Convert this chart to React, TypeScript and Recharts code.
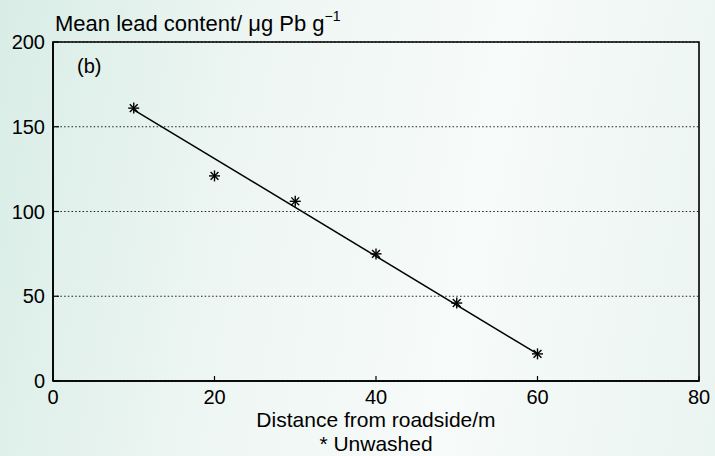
import React from 'react';
import { ComposedChart, Scatter, XAxis, YAxis, CartesianGrid, ReferenceArea } from 'recharts';

const distance = [10, 20, 30, 40, 50, 60];
const leadUnwashed = [161, 121, 106, 75, 46, 16];
const fitDistance = [10, 60];
const fitLead = [160, 16];
const xTicks = [0, 20, 40, 60, 80];
const yTicks = [0, 50, 100, 150, 200];

const points = distance.map((d, i) => ({ x: d, y: leadUnwashed[i] }));
const fitLine = fitDistance.map((d, i) => ({ x: d, y: fitLead[i] }));

const FONT = '"Liberation Sans", Arial, Helvetica, sans-serif';

// MATLAB style '*' marker
const Asterisk = (props: any) => {
  const { cx, cy } = props;
  if (cx == null || cy == null) return null;
  const r = 5.5;
  const d = r * 0.72;
  return (
    <g stroke="#000" strokeWidth={1.4}>
      <line x1={cx - r} y1={cy} x2={cx + r} y2={cy} />
      <line x1={cx} y1={cy - r} x2={cx} y2={cy + r} />
      <line x1={cx - d} y1={cy - d} x2={cx + d} y2={cy + d} />
      <line x1={cx - d} y1={cy + d} x2={cx + d} y2={cy - d} />
    </g>
  );
};

const NoDot = () => null;

export default function App() {
  return (
    <div
      style={{
        position: 'absolute',
        left: 0,
        top: 0,
        width: 715,
        height: 456,
        overflow: 'hidden',
        fontFamily: FONT,
        background: 'linear-gradient(100deg, #d9ede6 0%, #eef6f3 35%, #f7fbf9 65%, #eaf4f0 100%)',
      }}
    >
      <div style={{ position: 'absolute', left: 55, top: 11, fontSize: 22, lineHeight: 'normal', color: '#000', whiteSpace: 'nowrap' }}>
        Mean lead content/ μg Pb g<span style={{ fontSize: 14, position: 'relative', top: -10 }}>−1</span>
      </div>
      <div style={{ position: 'absolute', left: 77, top: 55, fontSize: 20, color: '#000' }}>(b)</div>
      <div style={{ position: 'absolute', left: 53, width: 646, top: 408, fontSize: 21, textAlign: 'center', color: '#000' }}>
        Distance from roadside/m
      </div>
      <div style={{ position: 'absolute', left: 53, width: 646, top: 432, fontSize: 21, textAlign: 'center', color: '#000' }}>
        * Unwashed
      </div>
      <div style={{ position: 'absolute', left: 0, top: 0 }}>
        <ComposedChart width={715} height={456} margin={{ top: 42, right: 16, bottom: 45, left: 8 }}>
          <CartesianGrid vertical={false} stroke="#222" strokeDasharray="1.5 2.2" strokeWidth={1} />
          <XAxis
            type="number"
            dataKey="x"
            domain={[0, 80]}
            ticks={xTicks}
            height={30}
            tickSize={-5}
            tickMargin={14}
            axisLine={{ stroke: '#000', strokeWidth: 1.6 }}
            tickLine={{ stroke: '#000', strokeWidth: 1.2 }}
            tick={{ fill: '#000', fontSize: 20, fontFamily: FONT }}
          />
          <YAxis
            type="number"
            dataKey="y"
            domain={[0, 200]}
            ticks={yTicks}
            width={45}
            tickSize={-6}
            tickMargin={14}
            axisLine={{ stroke: '#000', strokeWidth: 1.6 }}
            tickLine={{ stroke: '#000', strokeWidth: 1.2 }}
            tick={{ fill: '#000', fontSize: 20, fontFamily: FONT }}
          />
          <ReferenceArea x1={0} x2={80} y1={0} y2={200} fill="none" stroke="#000" strokeWidth={1.6} ifOverflow="visible" />
          <Scatter
            data={fitLine}
            line={{ stroke: '#000', strokeWidth: 1.5 }}
            shape={NoDot}
            isAnimationActive={false}
          />
          <Scatter data={points} shape={Asterisk} isAnimationActive={false} />
        </ComposedChart>
      </div>
    </div>
  );
}
